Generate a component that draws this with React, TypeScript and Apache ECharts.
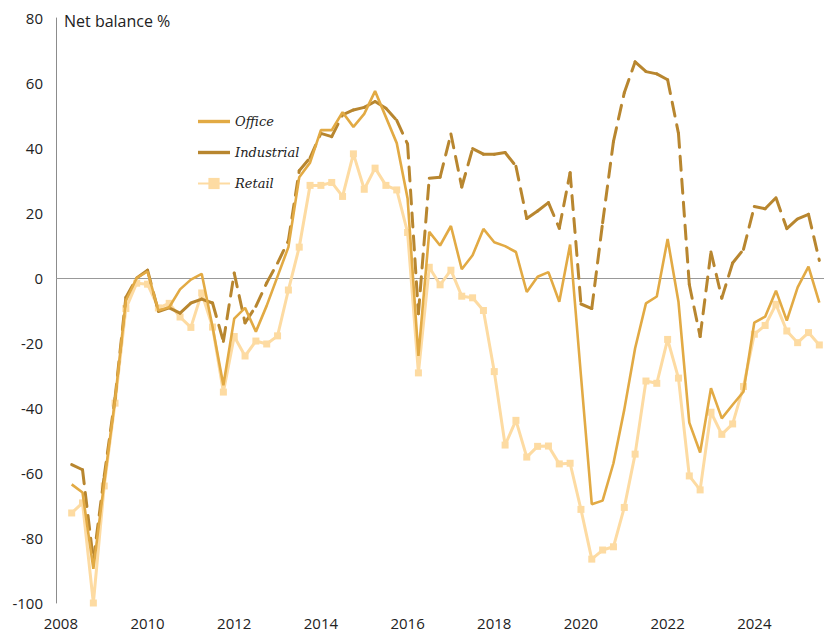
import React, { useEffect, useRef } from "react";
import * as echarts from "echarts";

// Quarterly survey readings, 2008 Q1 – 2025 Q2 (net balance %)
const firstYear = 2008;
const quarterCount = 70;
const quarters: string[] = [];
for (let i = 0; i < quarterCount; i++) {
  quarters.push(`${firstYear + Math.floor(i / 4)} Q${(i % 4) + 1}`);
}
// axis position of each quarter (plotted at quarter end, in years)
const quarterPos = quarters.map((q) => {
  const [y, qq] = q.split(" Q");
  return Number(y) + Number(qq) * 0.25;
});

const office = [
  -63.5, -66, -89.5, -63, -37.5, -7, 0, 2, -10, -9,
  -3.5, -0.5, 1.3, -15, -33, -12.5, -9.2, -16.5, -8.5, 0.5,
  9.5, 31, 35.5, 45.5, 45.5, 51, 46.5, 50.5, 57.5, 49.5,
  41.5, 24.5, -24, 14.2, 10, 16, 2.7, 7, 15.1, 11,
  9.8, 8, -4.3, 0.4, 1.8, -7.3, 10.3, -30, -69.6, -68.5,
  -57, -40.5, -21.6, -7.8, -5.7, 12, -7.3, -44.5, -53.7, -33.9,
  -43.2, -39, -35, -13.7, -11.9, -3.9, -13.1, -2.9, 3.5, -7.6,
];

const industrial = [
  -57.4, -59, -87, -61, -37, -6, 0, 2.4, -10.3, -9.2,
  -10.8, -7.7, -6.5, -7.7, -19.5, 1.5, -13.8, -8.7, -1.5, 4.6,
  11.5, 33, 37, 44.5, 43.5, 50.2, 51.7, 52.5, 54.3, 52.2,
  48.5, 41.2, -11, 30.7, 31, 44.3, 28, 39.8, 38.1, 38.1,
  38.6, 34.4, 18.3, 20.6, 23.2, 15.3, 32.4, -8, -9.4, 17,
  42, 57, 66.5, 63.5, 62.8, 61, 44.5, -2, -18, 8,
  -6.2, 4.6, 8.8, 22, 21.3, 24.7, 15.2, 18.2, 19.6, 5.4,
];

const retail = [
  -72.3, -69.2, -100, -64, -38.5, -9.4, -1.6, -1.9, -9.2, -7.8,
  -12, -15.2, -4.6, -15.1, -35.1, -18, -24, -19.4, -20.3, -17.8,
  -3.7, 9.5, 28.5, 28.5, 29.4, 25.1, 38.2, 27.3, 33.8, 28.5,
  27.1, 14, -29.2, 3.3, -2.1, 2.4, -5.6, -6.1, -10, -28.8,
  -51.4, -43.8, -55.1, -51.8, -51.7, -57.2, -57, -71.2, -86.5, -83.7,
  -82.7, -70.6, -54.2, -31.7, -32.4, -18.9, -30.8, -60.9, -65.2, -41.3,
  -48.1, -44.9, -33.4, -17.3, -14.6, -8.1, -16.3, -19.9, -16.8, -20.6,
];

const yearLabels = [2008, 2010, 2012, 2014, 2016, 2018, 2020, 2022, 2024];
const yMin = -100;
const yMax = 80;
const yStep = 20;

const COLORS = {
  office: "#E2AA44",
  industrial: "#B8862F",
  retail: "#FDDBA2",
};

const LINE_ICON = "path://M0,0L32,0L32,3.4L0,3.4Z";

export default function App() {
  const ref = useRef<HTMLDivElement>(null);

  useEffect(() => {
    if (!ref.current) return;
    const chart = echarts.init(ref.current, null, { renderer: "svg" });

    const officeData = office.map((v, i) => [quarterPos[i], v]);
    const retailData = retail.map((v, i) => [quarterPos[i], v]);
    const industrialSegs: number[][] = [];
    for (let i = 0; i < industrial.length - 1; i++) {
      industrialSegs.push([
        quarterPos[i],
        industrial[i],
        quarterPos[i + 1],
        industrial[i + 1],
      ]);
    }

    const option: any = {
      animation: false,
      backgroundColor: "#ffffff",
      grid: { left: 56, right: 0, top: 18, bottom: 31, containLabel: false },
      graphic: [
        {
          type: "text",
          left: 64,
          top: 13,
          style: {
            text: "Net balance %",
            font: '16px "Open Sans"',
            fill: "#222222",
          },
        },
      ],
      legend: {
        orient: "vertical",
        left: 197,
        top: 115,
        padding: 0,
        itemWidth: 32,
        itemHeight: 14,
        itemGap: 18,
        textStyle: {
          fontFamily: "DejaVu Serif",
          fontStyle: "italic",
          fontSize: 13,
          color: "#222222",
        },
        data: [
          { name: "Office", icon: LINE_ICON },
          { name: "Industrial", icon: LINE_ICON },
          { name: "Retail" },
        ],
      },
      xAxis: {
        type: "value",
        min: 2007.888,
        max: 2025.608,
        axisLine: { show: false },
        axisTick: { show: false, customValues: yearLabels },
        splitLine: { show: false },
        axisLabel: {
          customValues: yearLabels,
          formatter: (v: number) => String(v),
          fontFamily: "Open Sans",
          fontSize: 15,
          color: "#222222",
          margin: 12,
        },
      },
      yAxis: {
        type: "value",
        min: yMin,
        max: yMax,
        interval: yStep,
        axisLine: { show: true, lineStyle: { color: "#8c8c8c", width: 1 } },
        axisTick: { show: false },
        splitLine: { show: false },
        axisLabel: {
          fontFamily: "Open Sans",
          fontSize: 15,
          color: "#222222",
          margin: 13,
        },
      },
      series: [
        {
          name: "Office",
          type: "line",
          data: officeData,
          symbol: "none",
          lineStyle: { color: COLORS.office, width: 2.6 },
          itemStyle: { color: COLORS.office },
          z: 3,
          markLine: {
            silent: true,
            symbol: ["none", "none"],
            label: { show: false },
            lineStyle: { color: "#999999", width: 1, type: "solid" },
            data: [{ yAxis: 0 }],
            z: 1,
          },
        },
        {
          name: "Industrial",
          type: "custom",
          data: industrialSegs,
          encode: { x: [0, 2], y: [1, 3] },
          itemStyle: { color: COLORS.industrial },
          z: 2,
          renderItem: (params: any, api: any) => {
            const p0 = api.coord([api.value(0), api.value(1)]);
            const p1 = api.coord([api.value(2), api.value(3)]);
            return {
              type: "line",
              shape: { x1: p0[0], y1: p0[1], x2: p1[0], y2: p1[1] },
              style: {
                stroke: COLORS.industrial,
                lineWidth: 3,
                lineDash: [14, 9],
                lineCap: "round",
                fill: null,
              },
            };
          },
        },
        {
          name: "Retail",
          type: "line",
          data: retailData,
          symbol: "rect",
          symbolSize: 7,
          lineStyle: { color: COLORS.retail, width: 3 },
          itemStyle: { color: COLORS.retail },
          z: 1,
        },
      ],
    };

    chart.setOption(option);
    return () => chart.dispose();
  }, []);

  return (
    <div
      ref={ref}
      style={{ position: "fixed", left: 0, top: 0, width: 824, height: 634 }}
    />
  );
}
